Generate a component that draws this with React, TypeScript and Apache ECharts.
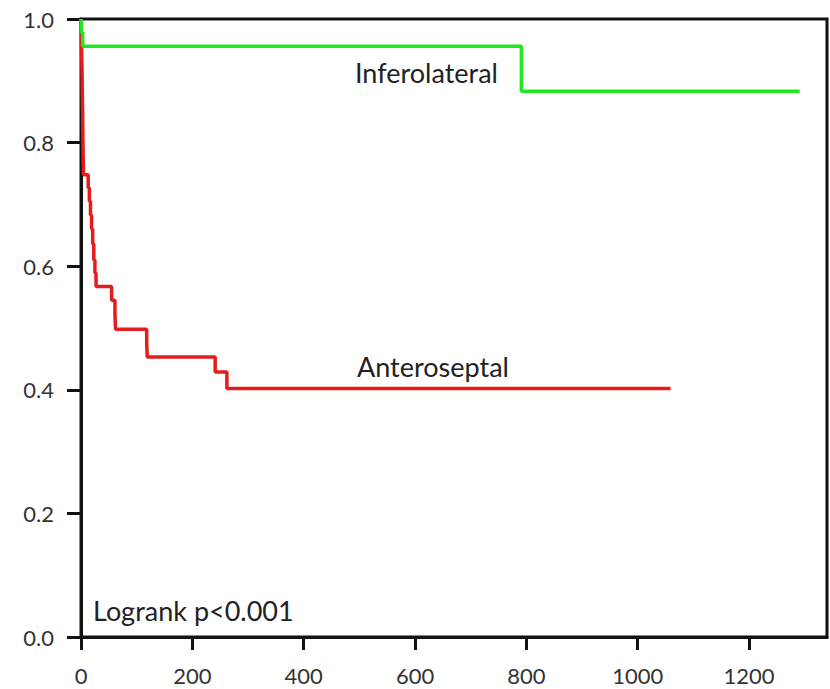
import React, { useEffect, useRef } from "react";
import * as echarts from "echarts";

// Kaplan-Meier step points: [time, survival]
const inferolateral: [number, number][] = [
  [0, 1.0],
  [1, 0.978],
  [3, 0.956],
  [791, 0.883],
  [1291, 0.883],
];

const anteroseptal: [number, number][] = [
  [0, 1.0],
  [0.5, 0.977],
  [1, 0.955],
  [1.5, 0.932],
  [2, 0.909],
  [2.3, 0.886],
  [2.6, 0.864],
  [3, 0.841],
  [3.3, 0.818],
  [3.6, 0.795],
  [4, 0.773],
  [4.5, 0.748],
  [13, 0.727],
  [15, 0.705],
  [17, 0.683],
  [19, 0.66],
  [21, 0.636],
  [23, 0.61],
  [25, 0.589],
  [27, 0.567],
  [55, 0.545],
  [61, 0.522],
  [62, 0.498],
  [118, 0.476],
  [119, 0.453],
  [241, 0.429],
  [262, 0.402],
  [1059, 0.402],
];

const xTicks = [0, 200, 400, 600, 800, 1000, 1200];
const yTicks = [0, 0.2, 0.4, 0.6, 0.8, 1.0];

const labels = [
  { text: "Inferolateral", x: 355, y: 72 },
  { text: "Anteroseptal", x: 357, y: 366 },
  { text: "Logrank p<0.001", x: 93, y: 610 },
];

const FONT = "Lato, 'Open Sans', sans-serif";

export default function App() {
  const ref = useRef<HTMLDivElement>(null);
  useEffect(() => {
    if (!ref.current) return;
    const chart = echarts.init(ref.current, undefined, { renderer: "svg" });
    chart.setOption({
      animation: false,
      backgroundColor: "#ffffff",
      grid: {
        left: 81,
        right: 3,
        top: 19,
        bottom: 52,
        show: true,
        borderColor: "#111",
        borderWidth: 3,
        backgroundColor: "transparent",
      },
      xAxis: {
        type: "value",
        min: 0,
        max: 1340,
        interval: 200,
        splitLine: { show: false },
        axisLine: { show: true, onZero: false, lineStyle: { color: "#111", width: 3 } },
        axisTick: {
          show: true,
          length: 13,
          customValues: xTicks,
          lineStyle: { color: "#111", width: 3 },
        },
        axisLabel: {
          customValues: xTicks,
          margin: 27,
          fontSize: 22,
          color: "#333",
          fontFamily: FONT,
          formatter: (v: number) => String(v),
        },
      },
      yAxis: {
        type: "value",
        min: 0,
        max: 1,
        interval: 0.2,
        splitLine: { show: false },
        axisLine: { show: true, onZero: false, lineStyle: { color: "#111", width: 3 } },
        axisTick: {
          show: true,
          length: 14,
          customValues: yTicks,
          lineStyle: { color: "#111", width: 3 },
        },
        axisLabel: {
          customValues: yTicks,
          margin: 27,
          fontSize: 22,
          color: "#333",
          fontFamily: FONT,
          formatter: (v: number) => v.toFixed(1),
        },
      },
      series: [
        {
          name: "Inferolateral",
          type: "line",
          step: "end",
          data: inferolateral,
          showSymbol: false,
          lineStyle: { color: "#22e622", width: 3.5 },
          itemStyle: { color: "#22e622" },
          z: 3,
        },
        {
          name: "Anteroseptal",
          type: "line",
          step: "end",
          data: anteroseptal,
          showSymbol: false,
          lineStyle: { color: "#e41c1c", width: 3.5 },
          itemStyle: { color: "#e41c1c" },
          z: 2,
        },
      ],
      graphic: labels.map((l) => ({
        type: "text",
        x: l.x,
        y: l.y,
        style: {
          text: l.text,
          font: `27px ${FONT}`,
          fill: "#222",
          align: "left",
          verticalAlign: "middle",
        },
      })),
    });
    return () => chart.dispose();
  }, []);
  return (
    <div
      ref={ref}
      style={{ position: "fixed", left: 0, top: 0, width: 830, height: 689, background: "#fff" }}
    />
  );
}
